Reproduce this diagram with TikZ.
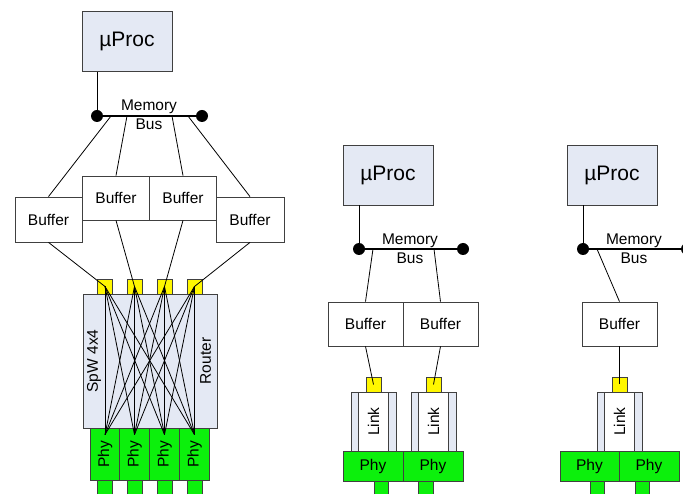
\documentclass[tikz,border=0pt]{standalone}
\usepackage{fontspec}
\setmainfont{Liberation Sans}
\definecolor{procblue}{RGB}{228,233,244}
\definecolor{phygreen}{RGB}{12,240,12}
\definecolor{portyellow}{RGB}{255,247,0}
\definecolor{edgegray}{RGB}{64,64,64}

\begin{document}
\begin{tikzpicture}
[x=1pt, y=-1pt, line width=0.8pt, font=\fontsize{15.5}{19}\selectfont,
proc/.style={rectangle, draw=edgegray, fill=procblue, inner sep=0pt, minimum width=90pt, minimum height=60pt, font=\fontsize{21}{24}\selectfont},
buf/.style={rectangle, draw=edgegray, fill=white, inner sep=0pt, minimum width=75pt, minimum height=44pt},
port/.style={rectangle, draw=edgegray, fill=portyellow, inner sep=0pt, minimum size=15pt},
router/.style={rectangle, draw=edgegray, fill=procblue, inner sep=0pt},
linkbox/.style={rectangle, draw=edgegray, fill=procblue, inner sep=0pt, minimum width=45pt, minimum height=59pt},
linkin/.style={rectangle, draw=edgegray, fill=white, inner sep=0pt, minimum width=30pt, minimum height=59pt},
phy/.style={rectangle, draw=edgegray, fill=phygreen, inner sep=0pt, minimum width=60pt, minimum height=30pt},
phyv/.style={rectangle, draw=edgegray, fill=phygreen, inner sep=0pt, minimum width=30pt, minimum height=52pt},
stub/.style={rectangle, draw=edgegray, fill=phygreen, inner sep=0pt, minimum width=15pt, minimum height=20pt},
dot/.style={circle, fill=black, inner sep=0pt, minimum size=12pt},
bus/.style={line width=2.5pt},
wire/.style={line width=0.8pt}]

\useasboundingbox (0,0) rectangle (683,494);
\clip (0,0) rectangle (683,494);

% left: processor, four buffers and the 4x4 router
\node[proc] (proc1) at (127,41.5) {µProc};
\node[dot] (dl1) at (97,116) {};
\node[dot] (dr1) at (202,116) {};
\node[align=center] (mem1) at (149,114.5) {Memory\\Bus};
\coordinate (t1) at (111,116);
\coordinate (t2) at (127,116);
\coordinate (t3) at (172,116);
\coordinate (t4) at (188,116);

\node[buf, minimum width=67pt, minimum height=45pt] (b1) at (48.5,219.5) {Buffer};
\node[buf, minimum width=67pt] (b2) at (116,198) {Buffer};
\node[buf, minimum width=67pt] (b3) at (183,198) {Buffer};
\node[buf, minimum width=68pt, minimum height=45pt] (b4) at (250,219.5) {Buffer};

\node[router, minimum width=134pt, minimum height=134pt] (rt) at (150,361) {};
\node[router, minimum width=89pt, minimum height=134pt] (xbar) at (149.5,361) {};
\node[rotate=90] (spw) at (94,361) {SpW 4x4};
\node[rotate=90] (rtr) at (205.5,361) {Router};

\foreach \x [count=\i] in {105,134.5,164.5,194.5} {
  \node[port] (p\i) at (\x,286.5) {};
  \node[stub] (s\i) at (\x,490) {};
  \node[phyv] (f\i) at (\x,454) {\rotatebox{90}{Phy}};
}

\draw[wire] (proc1.south -| dl1) -- (dl1);
\draw[bus] (dl1) -- (dr1);
\foreach \i in {1,...,4} {
  \draw[wire] (t\i) -- (b\i.north);
  \draw[wire] (b\i.south) -- (p\i.center);
  \foreach \j in {1,...,4}
    \draw[wire] (p\i.center) -- ([yshift=-7pt]f\j.north);
}

% middle: two buffers, two links
\node[proc] (proc2) at (388,175) {µProc};
\node[dot] (dl2) at (359,249) {};
\node[dot] (dr2) at (463,249) {};
\node[align=center] (mem2) at (410,249) {Memory\\Bus};
\coordinate (u1) at (373,249);
\coordinate (u2) at (434,249);

\node[buf] (c1) at (365.5,324) {Buffer};
\node[buf] (c2) at (440.5,324) {Buffer};

\node[stub, minimum width=14pt] (ms1) at (381,490) {};
\node[stub] (ms2) at (425.5,490) {};
\node[phy] (mf1) at (373,466) {Phy};
\node[phy] (mf2) at (433,466) {Phy};

\foreach \x [count=\i] in {373.5,433.5} {
  \node[linkbox] (ml\i) at (\x,421.5) {};
  \node[linkin] (mli\i) at (\x,421.5) {\rotatebox{90}{Link}};
  \node[port] (mp\i) at (\x,384.5) {};
}

\draw[wire] (proc2.south -| dl2) -- (dl2);
\draw[bus] (dl2) -- (dr2);
\foreach \i in {1,2} {
  \draw[wire] (u\i) -- (c\i.north);
  \draw[wire] (c\i.south) -- (mp\i.center);
}

% right: one buffer, one link
\node[proc] (proc3) at (612,175) {µProc};
\node[dot] (dl3) at (583,249) {};
\node[dot] (dr3) at (687,249) {};
\node[align=center] (mem3) at (634,249) {Memory\\Bus};
\coordinate (v1) at (597,249);

\node[buf] (d1) at (619.5,324) {Buffer};

\node[stub, minimum width=14pt] (rs1) at (597,490) {};
\node[stub, minimum width=14pt] (rs2) at (642,490) {};
\node[phy, minimum width=59pt] (rf1) at (589.5,466) {Phy};
\node[phy] (rf2) at (649,466) {Phy};

\node[linkbox] (rl1) at (619.5,421.5) {};
\node[linkin] (rli1) at (619.5,421.5) {\rotatebox{90}{Link}};
\node[port] (rp1) at (619.5,384.5) {};

\draw[wire] (proc3.south -| dl3) -- (dl3);
\draw[bus] (dl3) -- (dr3);
\draw[wire] (v1) -- (d1.north);
\draw[wire] (d1.south) -- (rp1.center);
\end{tikzpicture}
\end{document}
